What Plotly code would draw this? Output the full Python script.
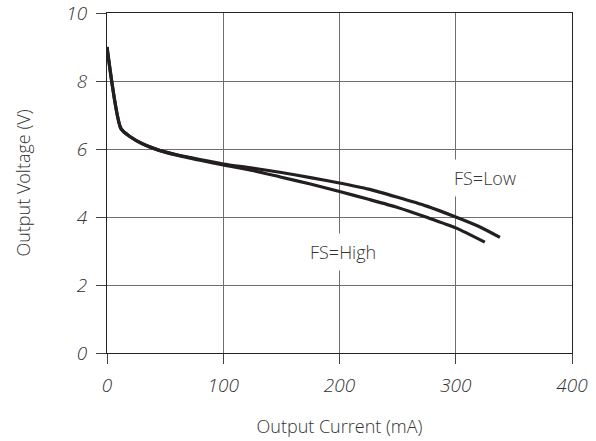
import plotly.graph_objects as go

low_x = [0, 12, 20, 30, 45, 60, 80, 100, 125, 150, 175, 200, 225, 250, 275, 300, 320, 338]
low_v = [9.0, 6.6, 6.36, 6.16, 5.96, 5.83, 5.69, 5.56, 5.44, 5.31, 5.16, 5.0, 4.82, 4.58, 4.32, 4.0, 3.72, 3.4]
high_x = [0, 12, 20, 30, 45, 60, 80, 100, 125, 150, 175, 200, 225, 250, 275, 300, 325]
high_v = [9.0, 6.6, 6.36, 6.16, 5.96, 5.82, 5.67, 5.53, 5.37, 5.17, 4.97, 4.75, 4.52, 4.28, 3.99, 3.68, 3.26]
x_ticks = [0, 100, 200, 300, 400]
y_ticks = [0, 2, 4, 6, 8, 10]

line_color = "#231f20"
font_fam = "Open Sans, Lato, sans-serif"
txt_color = "#333333"

fig = go.Figure()
fig.add_trace(go.Scatter(x=low_x, y=low_v, mode="lines", name="FS=Low",
                         line=dict(color=line_color, width=3.2, shape="spline", smoothing=0.6)))
fig.add_trace(go.Scatter(x=high_x, y=high_v, mode="lines", name="FS=High",
                         line=dict(color=line_color, width=3.2, shape="spline", smoothing=0.6)))

fig.add_annotation(x=325, y=5.15, text="FS=Low", showarrow=False,
                   font=dict(family=font_fam, size=18, color=txt_color, weight=300),
                   bgcolor="white", borderpad=6)
fig.add_annotation(x=203, y=2.97, text="FS=High", showarrow=False,
                   font=dict(family=font_fam, size=18, color=txt_color, weight=300),
                   bgcolor="white", borderpad=6)

axis_common = dict(
    showgrid=True, gridcolor="#6e6e6e", gridwidth=1,
    showline=True, linecolor="#222", linewidth=1, mirror=True,
    ticks="outside", ticklen=10, tickcolor="#444", tickwidth=1,
    zeroline=False, ticklabeloverflow="allow", automargin=False,
    tickfont=dict(family=font_fam, size=19, color=txt_color, style="italic", weight=300),
    title_font=dict(family=font_fam, size=18, color=txt_color, weight=300),
)

fig.update_xaxes(range=[0, 400], tickvals=x_ticks, title_text="Output Current (mA)",
                 title_standoff=23, ticklabelstandoff=5, **axis_common)
fig.update_yaxes(range=[0, 10], tickvals=y_ticks, title_text="Output Voltage (V)",
                 title_standoff=30, ticklabelstandoff=5, **axis_common)

fig.update_layout(
    width=596, height=441,
    margin=dict(l=107, r=24, t=13, b=88),
    paper_bgcolor="white", plot_bgcolor="white",
    showlegend=False,
)

fig.write_html("out.html")
